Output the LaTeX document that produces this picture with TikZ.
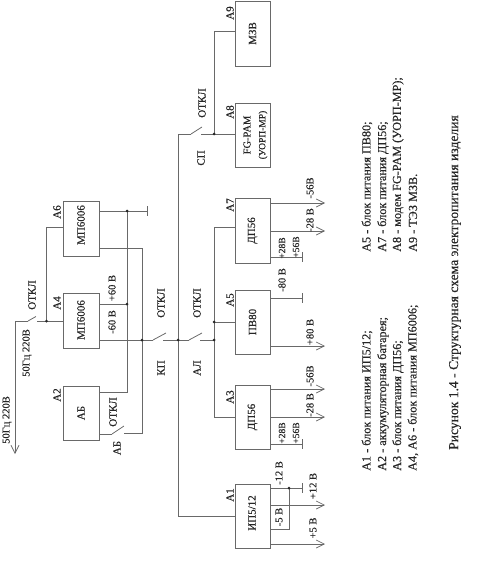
\documentclass[tikz,border=0pt]{standalone}
\usepackage{fontspec}
\usepackage{graphicx}
\setmainfont[FakeBold=0.35]{Liberation Serif}
\usetikzlibrary{arrows.meta}
\definecolor{wirec}{RGB}{105,105,105}
\tikzset{
  x=1pt,y=-1pt,
  wire/.style={draw=wirec,line width=0.9pt},
  outarrow/.style={wire,-{Straight Barb[length=8pt,width=8pt,line width=0.7pt]}},
  gnd/.style={wire,-{Bar[width=10pt,line width=0.8pt]}},
  box/.style={draw=wirec,line width=0.9pt,fill=white,inner sep=0pt,font=\fontsize{11}{12}\selectfont,text=black!85},
  tag/.style={rotate=90,inner sep=0pt,font=\fontsize{11}{12}\selectfont,text=black!85},
  volt/.style={rotate=90,inner sep=0pt,font=\fontsize{10.5}{12}\selectfont,text=black!85},
  small/.style={rotate=90,inner sep=0pt,font=\fontsize{9.5}{11}\selectfont,text=black!85},
  legend/.style={rotate=90,anchor=west,inner sep=0pt,font=\fontsize{12.2}{13}\selectfont,text=black!85},
  junction/.style={circle,fill=black!85,inner sep=0pt,minimum size=3pt},
  blade/.style={draw=wirec,line width=0.8pt}
}
\begin{document}
\begin{tikzpicture}
\useasboundingbox (0,0) rectangle (500,564);
% boxes
\node[box,minimum width=35pt,minimum height=65pt] (a9) at (252.5,33.5) {\rotatebox{90}{МЗВ}};
\node[box,minimum width=35pt,minimum height=64pt] (a8) at (252.5,135) {};
\node[box,minimum width=35pt,minimum height=65pt] (a7) at (252.5,230.5) {\rotatebox{90}{ДП56}};
\node[box,minimum width=35pt,minimum height=64pt] (a5) at (252.5,322) {\rotatebox{90}{ПВ80}};
\node[box,minimum width=35pt,minimum height=64pt] (a3) at (252.5,417) {\rotatebox{90}{ДП56}};
\node[box,minimum width=35pt,minimum height=64pt] (a1) at (252.5,516) {};
\node[box,minimum width=36pt,minimum height=55pt] (a6) at (81,228.5) {};
\node[box,minimum width=36pt,minimum height=55pt] (a4) at (81,320.5) {};
\node[box,minimum width=36pt,minimum height=54pt] (a2) at (81,413) {\rotatebox{90}{АБ}};
\node[tag] (ta1) at (252,513) {ИП5/12};
\node[tag] (ta6) at (81,225) {МП6006};
\node[tag] (ta4) at (81,320) {МП6006};
\node[tag,font=\fontsize{10.5}{12}\selectfont] (ta8a) at (247,135) {FG-PAM};
\node[small] (ta8b) at (263,135) {(УОРП-МР)};
% coordinates
\coordinate (busT) at (178,134);
\coordinate (busB) at (178,516);
\coordinate (sA) at (191,134);
\coordinate (sB) at (202,127);
\coordinate (sC) at (201,134);
\coordinate (j89) at (214,134);
\coordinate (j9t) at (214,31);
\coordinate (j7t) at (214,227);
\coordinate (j3b) at (214,417);
\coordinate (j5) at (214,322);
\coordinate (jal) at (214,340);
\coordinate (jbus) at (178,340);
\coordinate (alA) at (189,340);
\coordinate (alB) at (202,333);
\coordinate (alC) at (200,340);
\coordinate (jkp) at (142,340);
\coordinate (kpA) at (153,340);
\coordinate (kpB) at (166,333);
\coordinate (kpC) at (163,340);
\coordinate (v2t) at (142,248);
\coordinate (v2b) at (142,433);
\coordinate (abA) at (112,434);
\coordinate (abB) at (124,426);
\coordinate (abC) at (124,433);
\coordinate (v1t) at (127,211);
\coordinate (v1b) at (127,392);
\coordinate (j4) at (127,304);
\coordinate (g6) at (148,211);
\coordinate (v3t) at (46.5,227);
\coordinate (j3) at (46.5,321);
\coordinate (mA) at (15,321);
\coordinate (mB) at (28,321);
\coordinate (mC) at (36,316.5);
\coordinate (mD) at (37,321);
\coordinate (mE) at (15,454);
% bus
\draw[wire] (sA) -- (busT) -- (busB) -- (a1.west|-busB);
\draw[blade] (sA) -- (sB);
\draw[wire] (sC) -- (a8.west|-sC);
\draw[wire] (j89) -- (j9t) -- (a9.west|-j9t);
\draw[wire] (a7.west|-j7t) -- (j7t) -- (j3b) -- (a3.west|-j3b);
\draw[wire] (j5) -- (a5.west|-j5);
\draw[wire] (jbus) -- (alA);
\draw[blade] (alA) -- (alB);
\draw[wire] (alC) -- (jal);
\draw[wire] (a4.east|-jkp) -- (kpA);
\draw[blade] (kpA) -- (kpB);
\draw[wire] (kpC) -- (jbus);
\draw[wire] (a6.east|-v2t) -- (v2t) -- (v2b) -- (abC);
\draw[wire] (a2.east|-abA) -- (abA);
\draw[blade] (abA) -- (abB);
\draw[gnd] (a6.east|-v1t) -- (g6);
\draw[wire] (v1t) -- (v1b) -- (a2.east|-v1b);
\draw[wire] (a4.east|-j4) -- (j4);
\draw[wire] (a6.west|-v3t) -- (v3t) -- (j3);
\draw[wire] (a4.west|-j3) -- (mD);
\draw[blade] (mB) -- (mC);
\draw[wire] (mB) -- (mA);
\draw[outarrow] (mA) -- (mE);
% outputs
\coordinate (o7a) at (325,203);
\coordinate (o7b) at (325,231);
\coordinate (o7c) at (303,257);
\coordinate (o5a) at (303,298);
\coordinate (o5b) at (325,346);
\coordinate (o3a) at (325,389);
\coordinate (o3b) at (325,417);
\coordinate (o3c) at (303,444);
\coordinate (o1a) at (303,488);
\coordinate (o1b) at (325,505);
\coordinate (o1c) at (325,544);
\coordinate (j1) at (289,488);
\coordinate (j1b) at (289,529);
\draw[outarrow] (a7.east|-o7a) -- (o7a);
\draw[outarrow] (a7.east|-o7b) -- (o7b);
\draw[gnd] (a7.east|-o7c) -- (o7c);
\draw[gnd] (a5.east|-o5a) -- (o5a);
\draw[outarrow] (a5.east|-o5b) -- (o5b);
\draw[outarrow] (a3.east|-o3a) -- (o3a);
\draw[outarrow] (a3.east|-o3b) -- (o3b);
\draw[gnd] (a3.east|-o3c) -- (o3c);
\draw[gnd] (a1.east|-o1a) -- (o1a);
\draw[outarrow] (a1.east|-o1b) -- (o1b);
\draw[outarrow] (a1.east|-o1c) -- (o1c);
\draw[wire] (j1) -- (j1b) -- (a1.east|-j1b);
% junction dots
\node[junction] (d1) at (j89) {};
\node[junction] (d2) at (j5) {};
\node[junction] (d3) at (jal) {};
\node[junction] (d4) at (jbus) {};
\node[junction] (d5) at (jkp) {};
\node[junction] (d6) at (j4) {};
\node[junction] (d7) at (v1t) {};
\node[junction] (d8) at (j3) {};
\node[junction] (d9) at (j1) {};
% tags
\node[tag] (l9) at (230,13) {А9};
\node[tag] (l8) at (230,112) {А8};
\node[tag] (l7) at (230,205) {А7};
\node[tag] (l5) at (230,300) {А5};
\node[tag] (l3) at (230,397) {А3};
\node[tag] (l1) at (230,495) {А1};
\node[tag] (l6) at (57,212) {А6};
\node[tag] (l4) at (57,303) {А4};
\node[tag] (l2) at (57,395) {А2};
% voltages
\node[volt] at (310,188) (v01) {-56В};
\node[volt] at (310,220) (v02) {-28 В};
\node[small] at (282,248) (v03) {+28В};
\node[small] at (296,247) (v04) {+56В};
\node[volt] at (282,280) (v05) {-80 В};
\node[volt] at (310,332) (v06) {+80 В};
\node[volt] at (310,376) (v07) {-56В};
\node[volt] at (310,405) (v08) {-28 В};
\node[small] at (282,433) (v09) {+28В};
\node[small] at (296,433) (v10) {+56В};
\node[volt] at (279,473) (v11) {-12 В};
\node[volt] at (313,486) (v12) {+12 В};
\node[volt] at (279,517) (v13) {-5 В};
\node[volt] at (313,528) (v14) {+5 В};
\node[volt] at (112,322) (v15) {-60 В};
\node[volt] at (112,288) (v16) {+60 В};
\node[volt] at (27,353) (v17) {50Гц 220В};
\node[volt] at (7,420) (v18) {50Гц 220В};
% switch labels
\node[tag] at (32,295) (s1) {ОТКЛ};
\node[tag] at (161,303) (s2) {ОТКЛ};
\node[tag] at (197,303) (s3) {ОТКЛ};
\node[tag] at (202,103) (s4) {ОТКЛ};
\node[tag] at (113,412) (s5) {ОТКЛ};
\node[tag] at (201,158) (s6) {СП};
\node[tag] at (197,368) (s7) {АЛ};
\node[tag] at (161,368) (s8) {КП};
\node[tag] at (117,448) (s9) {АБ};
% legend
\node[legend] at (367,471) (t1) {А1 - блок питания ИП5/12;};
\node[legend] at (383,471) (t2) {А2 - аккумуляторная батарея;};
\node[legend] at (398,471) (t3) {А3 - блок питания ДП56;};
\node[legend] at (413,471) (t4) {А4, А6 - блок питания МП6006;};
\node[legend] at (367,252) (t5) {А5 - блок питания ПВ80;};
\node[legend] at (383,252) (t6) {А7 - блок питания ДП56;};
\node[legend] at (398,252) (t7) {А8 - модем FG-PAM (УОРП-МР);};
\node[legend] at (413,252) (t8) {А9 - ТЭЗ МЗВ.};
\node[legend,font=\fontsize{13.6}{15}\selectfont] at (455,450) (cap) {Рисунок 1.4 - Структурная схема электропитания изделия};
\end{tikzpicture}
\end{document}
